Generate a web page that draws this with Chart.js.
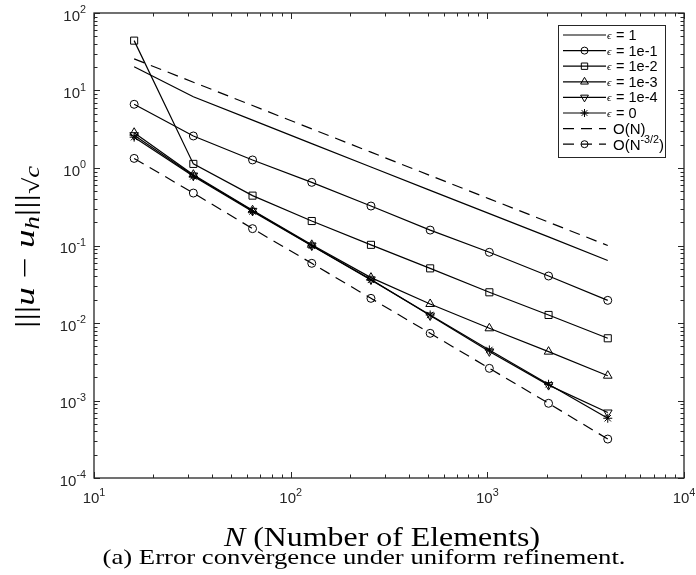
<!DOCTYPE html>
<html>
<head>
<meta charset="utf-8">
<script src="https://cdn.jsdelivr.net/npm/chart.js@4.4.1/dist/chart.umd.min.js"></script>
<style>
  html, body { margin: 0; padding: 0; background: #fff; }
  canvas { display: block; }
</style>
</head>
<body>
<canvas id="grafico" width="696" height="575"></canvas>
<script>
// Número de elementos (eje x)
const N = [16, 32, 64, 128, 256, 512, 1024, 2048, 4096];

// Errores, uno por serie
const ERR_EPS_1    = [20.3, 8.3, 4.15, 2.06, 1.03, 0.515, 0.258, 0.129, 0.064];
const ERR_EPS_1E1  = [6.64, 2.59, 1.27, 0.653, 0.323, 0.158, 0.0817, 0.0404, 0.0196];
const ERR_EPS_1E2  = [44, 1.13, 0.44, 0.207, 0.102, 0.0507, 0.0249, 0.0127, 0.00635];
const ERR_EPS_1E3  = [2.85, 0.82, 0.285, 0.102, 0.0385, 0.0176, 0.00854, 0.00427, 0.00209];
const ERR_EPS_1E4  = [2.65, 0.8, 0.28, 0.1, 0.0365, 0.0125, 0.0043, 0.00158, 0.0007];
const ERR_EPS_0    = [2.5, 0.78, 0.275, 0.099, 0.036, 0.0127, 0.00449, 0.00162, 0.00059];
const REF_ORDEN_1  = [25.6, 12.8, 6.4, 3.2, 1.6, 0.8, 0.4, 0.2, 0.1];
const REF_ORDEN_32 = [1.33, 0.475, 0.165, 0.0589, 0.0208, 0.00736, 0.0026, 0.00092, 0.000318];

// Etiquetas de leyenda (^{...} = superíndice)
const ETIQUETAS = ['ϵ = 1', 'ϵ = 1e-1', 'ϵ = 1e-2', 'ϵ = 1e-3', 'ϵ = 1e-4', 'ϵ = 0', 'O(N)', 'O(N^{-3/2})'];

// Marcas de los ejes (exponentes de 10)
const EXP_X = [1, 2, 3, 4];
const EXP_Y = [-4, -3, -2, -1, 0, 1, 2];

const TITULO_X_ITALICA = 'N';
const TITULO_X = ' (Number of Elements)';
const LEYENDA_FIGURA = '(a) Error convergence under uniform refinement.';

const COLOR_EJE = '#262626';
const SANS = '"Liberation Sans", Arial, sans-serif';
const SERIF = '"Liberation Serif", "Times New Roman", serif';

const SERIES = [ERR_EPS_1, ERR_EPS_1E1, ERR_EPS_1E2, ERR_EPS_1E3, ERR_EPS_1E4, ERR_EPS_0, REF_ORDEN_1, REF_ORDEN_32];
const ESTILOS = [
  { pointStyle: false, radius: 0, dash: [] },
  { pointStyle: 'circle', radius: 4, dash: [] },
  { pointStyle: 'rect', radius: 5, dash: [] },
  { pointStyle: 'triangle', radius: 5, dash: [] },
  { pointStyle: 'triangle', radius: 5, rotation: 180, dash: [] },
  { pointStyle: 'star', radius: 4.5, dash: [] },
  { pointStyle: false, radius: 0, dash: [11, 7] },
  { pointStyle: 'circle', radius: 4, dash: [11, 7] },
];

/** Dibuja texto con superíndices ^{...}; devuelve el ancho */
function textoRico(ctx, txt, x, y, tam, familia, medirSolo) {
  const partes = [];
  const re = /\^\{([^}]*)\}/g;
  let ultimo = 0, m;
  while ((m = re.exec(txt)) !== null) {
    if (m.index > ultimo) partes.push({ t: txt.slice(ultimo, m.index), sup: false });
    partes.push({ t: m[1], sup: true });
    ultimo = re.lastIndex;
  }
  if (ultimo < txt.length) partes.push({ t: txt.slice(ultimo), sup: false });
  let ancho = 0;
  partes.forEach(p => {
    ctx.font = (p.sup ? tam * 0.72 : tam) + 'px ' + familia;
    const w = ctx.measureText(p.t).width;
    if (!medirSolo) ctx.fillText(p.t, x + ancho, p.sup ? y - tam * 0.47 : y);
    ancho += w;
  });
  return ancho;
}

/** Dibuja trozos de texto estirados a lo ancho hasta ocupar 'ancho' px */
function textoEstirado(ctx, partes, x, y, ancho) {
  let natural = 0;
  partes.forEach(p => { ctx.font = p.f; natural += ctx.measureText(p.t).width; });
  ctx.save();
  ctx.translate(x, y);
  ctx.scale(ancho / natural, 1);
  let cx = 0;
  partes.forEach(p => { ctx.font = p.f; ctx.fillText(p.t, cx, p.dy || 0); cx += ctx.measureText(p.t).width; });
  ctx.restore();
}

const pluginMarco = {
  id: 'marco',
  afterDraw(chart) {
    const ctx = chart.ctx;
    const a = chart.chartArea;
    const sx = chart.scales.x, sy = chart.scales.y;
    ctx.save();

    // Marco y marcas hacia adentro en los cuatro lados
    ctx.strokeStyle = COLOR_EJE;
    ctx.lineWidth = 1;
    ctx.setLineDash([]);
    const linea = (x1, y1, x2, y2) => { ctx.beginPath(); ctx.moveTo(x1, y1); ctx.lineTo(x2, y2); ctx.stroke(); };
    EXP_X.forEach((e, i) => {
      for (let k = 1; k <= 9; k++) {
        if (i === EXP_X.length - 1 && k > 1) break;
        const px = Math.round(sx.getPixelForValue(k * Math.pow(10, e))) + 0.5;
        const l = k === 1 ? 6 : 3.5;
        linea(px, a.bottom, px, a.bottom - l);
        linea(px, a.top, px, a.top + l);
      }
    });
    EXP_Y.forEach((e, i) => {
      for (let k = 1; k <= 9; k++) {
        if (i === EXP_Y.length - 1 && k > 1) break;
        const py = Math.round(sy.getPixelForValue(k * Math.pow(10, e))) + 0.5;
        const l = k === 1 ? 6 : 3.5;
        linea(a.left, py, a.left + l, py);
        linea(a.right, py, a.right - l, py);
      }
    });
    ctx.lineWidth = 1.3;
    ctx.strokeRect(a.left, a.top, a.right - a.left, a.bottom - a.top);

    // Etiquetas de marcas
    ctx.fillStyle = COLOR_EJE;
    ctx.textBaseline = 'alphabetic';
    ctx.textAlign = 'left';
    EXP_X.forEach(e => {
      const px = sx.getPixelForValue(Math.pow(10, e));
      const txt = '10^{' + e + '}';
      const w = textoRico(ctx, txt, 0, 0, 15, SANS, true);
      textoRico(ctx, txt, px - w / 2, a.bottom + 25, 15, SANS);
    });
    EXP_Y.forEach(e => {
      const py = sy.getPixelForValue(Math.pow(10, e));
      const txt = '10^{' + (e < 0 ? '-' + (-e) : e) + '}';
      const w = textoRico(ctx, txt, 0, 0, 15, SANS, true);
      textoRico(ctx, txt, a.left - 8 - w, py + 7.5, 15, SANS);
    });

    // Título del eje x y leyenda de la figura
    ctx.fillStyle = '#000';
    textoEstirado(ctx, [
      { t: TITULO_X_ITALICA, f: 'italic 26.5px ' + SERIF },
      { t: TITULO_X, f: '26.5px ' + SERIF },
    ], 224, 546, 316);
    textoEstirado(ctx, [{ t: LEYENDA_FIGURA, f: '21.5px ' + SERIF }], 102.5, 564, 523);

    // Título del eje y: |||u − u_h|||_√c
    const tamY = 28;
    ctx.save();
    ctx.translate(34, 247);
    ctx.rotate(-Math.PI / 2);
    textoEstirado(ctx, [
      { t: '|||', f: tamY + 'px ' + SERIF },
      { t: 'u', f: 'italic ' + tamY + 'px ' + SERIF },
      { t: ' − ', f: tamY + 'px ' + SERIF },
      { t: 'u', f: 'italic ' + tamY + 'px ' + SERIF },
      { t: 'h', f: 'italic ' + (tamY * 0.72) + 'px ' + SERIF, dy: 5 },
      { t: '|||', f: tamY + 'px ' + SERIF },
      { t: '√', f: (tamY * 0.8) + 'px ' + SERIF, dy: 5 },
      { t: 'c', f: 'italic ' + (tamY * 0.72) + 'px ' + SERIF, dy: 5 },
    ], -81, 0, 162);
    ctx.restore();

    // Leyenda de series dentro del área
    const caja = { x: 558, y: 25, w: 107, h: 132 };
    ctx.fillStyle = '#fff';
    ctx.fillRect(caja.x, caja.y, caja.w, caja.h);
    ctx.strokeStyle = COLOR_EJE;
    ctx.lineWidth = 1;
    ctx.strokeRect(caja.x + 0.5, caja.y + 0.5, caja.w, caja.h);
    ETIQUETAS.forEach((et, i) => {
      const cy = 35 + i * 15.6;
      const est = ESTILOS[i];
      ctx.strokeStyle = '#000';
      ctx.lineWidth = 1.2;
      ctx.setLineDash(est.dash);
      linea(563, cy, 606, cy);
      ctx.setLineDash([]);
      if (est.pointStyle) {
        ctx.fillStyle = 'rgba(0,0,0,0)';
        ctx.lineWidth = 1;
        Chart.helpers.drawPoint(ctx, { pointStyle: est.pointStyle, radius: est.radius - 0.5, rotation: est.rotation || 0, borderWidth: 1 }, 584.5, cy);
      }
      ctx.fillStyle = '#000';
      if (et.startsWith('ϵ')) {
        ctx.font = 'italic 11px ' + SERIF;
        ctx.fillText('ϵ', 607, cy + 4);
        textoRico(ctx, et.slice(1), 612, cy + 5, 14.5, SANS);
      } else {
        textoRico(ctx, et, 613, cy + 5.5, 15, SANS);
      }
    });
    ctx.restore();
  },
};

const datasets = SERIES.map((serie, i) => ({
  label: ETIQUETAS[i],
  data: N.map((n, j) => ({ x: n, y: serie[j] })),
  borderColor: '#000',
  borderWidth: 1.2,
  borderDash: ESTILOS[i].dash,
  backgroundColor: 'rgba(0,0,0,0)',
  pointStyle: ESTILOS[i].pointStyle,
  pointRadius: ESTILOS[i].radius,
  pointRotation: ESTILOS[i].rotation || 0,
  pointBorderWidth: 1,
  pointBorderColor: '#000',
  pointBackgroundColor: 'rgba(0,0,0,0)',
  tension: 0,
  fill: false,
}));

new Chart(document.getElementById('grafico'), {
  type: 'line',
  data: { datasets },
  options: {
    responsive: false,
    animation: false,
    devicePixelRatio: 1,
    layout: { padding: { left: 94, right: 12, top: 13, bottom: 97 } },
    plugins: { legend: { display: false }, tooltip: { enabled: false } },
    scales: {
      x: { type: 'logarithmic', min: 10, max: 10000, display: false },
      y: { type: 'logarithmic', min: 1e-4, max: 100, display: false },
    },
  },
  plugins: [pluginMarco],
});
</script>
</body>
</html>
